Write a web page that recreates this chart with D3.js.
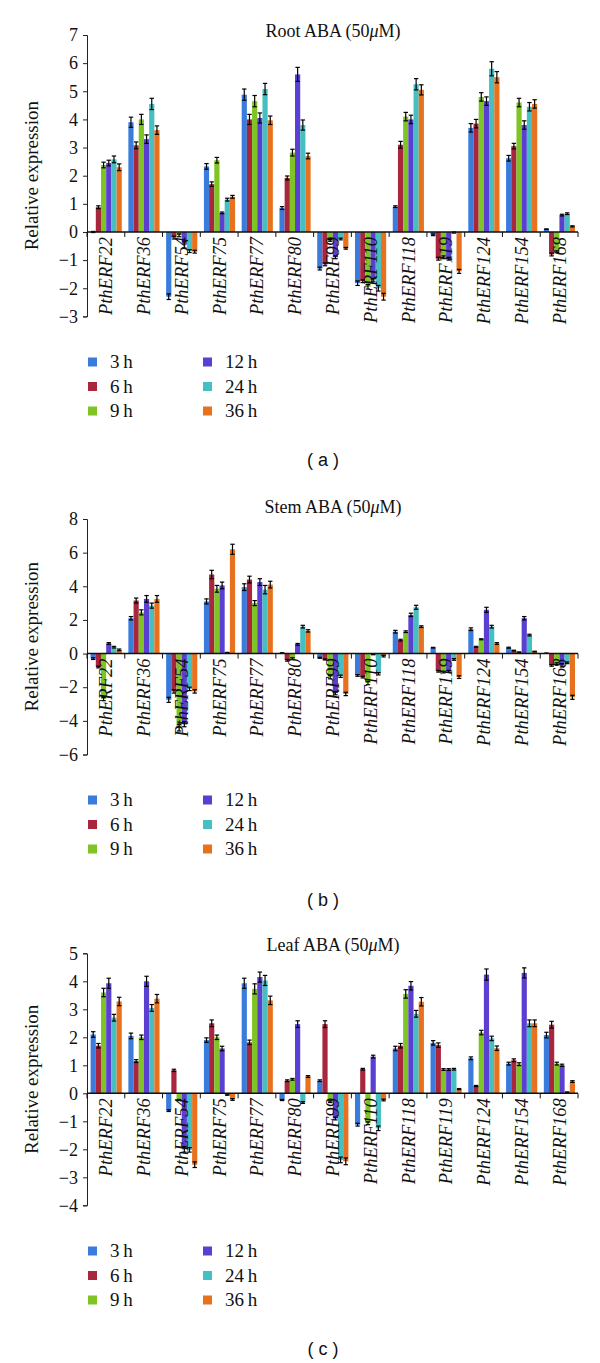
<!DOCTYPE html>
<meta charset="utf-8">
<style>
 body { margin: 0; background: #fff; }
 svg text { font-family: "Liberation Serif", "Times New Roman", serif; fill: #111; }
 svg text.tag { font-family: "Liberation Sans", Arial, sans-serif; font-size: 18px; }
</style>
<body>
<script src="https://cdn.jsdelivr.net/npm/d3@7"></script>
<script>

var genes = ["PthERF22", "PthERF36", "PthERF54", "PthERF75", "PthERF77", "PthERF80", "PthERF99",
             "PthERF110", "PthERF118", "PthERF119", "PthERF124", "PthERF154", "PthERF168"];
var times = ["3\u2009h", "6\u2009h", "9\u2009h", "12\u2009h", "24\u2009h", "36\u2009h"];
var colors = ["#3a7cdc", "#a8263e", "#7fc425", "#5a3fd0", "#45bfc2", "#e8711f"];

// one row per gene, one value per time point
var rootVals = [
  [0, 0.88, 2.38, 2.45, 2.58, 2.3],
  [3.9, 3.08, 4.0, 3.3, 4.55, 3.62],
  [-2.3, -0.2, -0.12, -0.45, -0.68, -0.7],
  [2.33, 1.7, 2.55, 0.68, 1.15, 1.25],
  [4.88, 4.0, 4.65, 4.05, 5.08, 3.97],
  [0.85, 1.92, 2.82, 5.6, 3.8, 2.7],
  [-1.3, -1.15, -0.3, -0.9, -0.25, -0.58],
  [-1.82, -1.75, -1.95, -1.7, -2.0, -2.3],
  [0.9, 3.1, 4.1, 4.0, 5.25, 5.05],
  [-0.1, -0.95, -0.9, -0.95, -0.02, -1.4],
  [3.7, 3.85, 4.8, 4.65, 5.8, 5.5],
  [2.62, 3.05, 4.6, 3.8, 4.45, 4.55],
  [0.1, -0.8, -0.7, 0.6, 0.65, 0.2]
];
var rootErr = [
  [0.02, 0.05, 0.1, 0.1, 0.12, 0.12],
  [0.18, 0.12, 0.18, 0.15, 0.2, 0.15],
  [0.1, 0.05, 0.05, 0.12, 0.05, 0.05],
  [0.1, 0.08, 0.1, 0.03, 0.05, 0.05],
  [0.2, 0.18, 0.2, 0.18, 0.2, 0.15],
  [0.05, 0.07, 0.12, 0.25, 0.18, 0.1],
  [0.05, 0.05, 0.03, 0.05, 0.03, 0.03],
  [0.08, 0.05, 0.08, 0.05, 0.1, 0.12],
  [0.03, 0.12, 0.15, 0.15, 0.2, 0.18],
  [0.03, 0.05, 0.05, 0.05, 0.02, 0.07],
  [0.15, 0.15, 0.15, 0.15, 0.25, 0.2],
  [0.1, 0.1, 0.15, 0.15, 0.15, 0.15],
  [0.01, 0.05, 0.03, 0.03, 0.03, 0.02]
];

var stemVals = [
  [-0.3, -0.8, -2.7, 0.6, 0.38, 0.22],
  [2.1, 3.15, 2.45, 3.25, 2.85, 3.25],
  [-2.75, -2.25, -4.4, -4.2, -2.1, -2.25],
  [3.1, 4.7, 3.85, 4.05, 0.05, 6.2],
  [3.95, 4.4, 3.0, 4.25, 3.8, 4.1],
  [0.03, -0.4, -0.3, 0.55, 1.6, 1.35],
  [-0.25, -0.35, -1.4, -2.35, -1.35, -2.4],
  [-1.3, -1.4, -1.75, -0.05, -1.2, -0.15],
  [1.3, 0.8, 1.3, 2.3, 2.75, 1.6],
  [0.35, -1.05, -1.1, -1.05, -0.35, -1.4],
  [1.45, 0.4, 0.85, 2.6, 1.6, 0.6],
  [0.35, 0.18, 0.08, 2.1, 1.1, 0.12],
  [0.02, -0.7, -0.6, -0.7, -0.55, -2.6]
];
var stemErr = [
  [0.05, 0.05, 0.1, 0.05, 0.05, 0.05],
  [0.1, 0.15, 0.15, 0.2, 0.15, 0.2],
  [0.15, 0.1, 0.2, 0.15, 0.1, 0.1],
  [0.15, 0.25, 0.2, 0.2, 0.02, 0.3],
  [0.2, 0.2, 0.15, 0.2, 0.25, 0.2],
  [0.02, 0.05, 0.05, 0.05, 0.08, 0.07],
  [0.03, 0.03, 0.1, 0.1, 0.07, 0.1],
  [0.05, 0.05, 0.1, 0.02, 0.07, 0.05],
  [0.08, 0.05, 0.05, 0.1, 0.12, 0.05],
  [0.02, 0.05, 0.05, 0.05, 0.05, 0.08],
  [0.08, 0.03, 0.03, 0.15, 0.08, 0.05],
  [0.03, 0.02, 0.02, 0.1, 0.05, 0.02],
  [0.01, 0.05, 0.05, 0.1, 0.05, 0.12]
];

var leafVals = [
  [2.1, 1.7, 3.6, 3.93, 2.7, 3.28],
  [2.05, 1.15, 2.0, 4.0, 3.05, 3.38],
  [-0.62, 0.82, -0.24, -2.0, -2.02, -2.55],
  [1.9, 2.5, 2.0, 1.6, -0.05, -0.22],
  [3.93, 1.82, 3.73, 4.15, 4.03, 3.32],
  [-0.24, 0.45, 0.5, 2.47, -0.33, 0.6],
  [0.45, 2.47, -0.3, -0.9, -2.38, -2.43],
  [-1.12, 0.86, -1.07, 1.31, -1.25, -0.24],
  [1.6, 1.7, 3.55, 3.84, 2.84, 3.27],
  [1.8, 1.72, 0.85, 0.85, 0.86, 0.15],
  [1.25, 0.26, 2.17, 4.24, 1.96, 1.61],
  [1.06, 1.18, 1.04, 4.3, 2.5, 2.5],
  [2.08, 2.45, 1.06, 1.0, 0.04, 0.42]
];
var leafErr = [
  [0.1, 0.08, 0.15, 0.18, 0.12, 0.15],
  [0.1, 0.05, 0.08, 0.18, 0.12, 0.15],
  [0.03, 0.04, 0.02, 0.1, 0.08, 0.1],
  [0.08, 0.12, 0.08, 0.08, 0.02, 0.03],
  [0.18, 0.08, 0.18, 0.18, 0.18, 0.15],
  [0.02, 0.03, 0.03, 0.12, 0.03, 0.03],
  [0.03, 0.12, 0.03, 0.05, 0.1, 0.12],
  [0.05, 0.03, 0.05, 0.05, 0.08, 0.03],
  [0.08, 0.08, 0.15, 0.15, 0.12, 0.15],
  [0.08, 0.08, 0.03, 0.03, 0.03, 0.02],
  [0.05, 0.02, 0.08, 0.2, 0.08, 0.08],
  [0.05, 0.05, 0.05, 0.18, 0.12, 0.12],
  [0.1, 0.12, 0.05, 0.04, 0.01, 0.03]
];

var width = 600, height = 1363;
var left = 87, right = 578;
var serif = '"Liberation Serif", "Times New Roman", serif';

var svg = d3.select("body").append("svg")
  .attr("width", width)
  .attr("height", height);

var panels = [
  {tissue: "Root", vals: rootVals, errs: rootErr, lo: -3, hi: 7, step: 1, top: 35, bottom: 316.4, titleY: 37, legendY: 362, tag: "( a )", tagY: 460},
  {tissue: "Stem", vals: stemVals, errs: stemErr, lo: -6, hi: 8, step: 2, top: 519, bottom: 754.5, titleY: 513, legendY: 800, tag: "( b )", tagY: 900},
  {tissue: "Leaf", vals: leafVals, errs: leafErr, lo: -4, hi: 5, step: 1, top: 953.3, bottom: 1205.3, titleY: 951, legendY: 1251, tag: "( c )", tagY: 1349}
];

var x0 = d3.scaleBand().domain(genes).range([left, right]);
var x1 = d3.scaleBand().domain(times).range([3.6, x0.bandwidth() - 3]);

panels.forEach(function (p) {
  var g = svg.append("g");
  var y = d3.scaleLinear().domain([p.lo, p.hi]).range([p.bottom, p.top]);
  var y0 = y(0);

  // title
  var t = g.append("text")
    .attr("x", 333).attr("y", p.titleY)
    .attr("text-anchor", "middle")
    .style("font-family", serif)
    .style("font-size", "18px")
    .text(p.tissue + " ABA (50");
  t.append("tspan").style("font-style", "italic").text("\u03bc");
  t.append("tspan").text("M)");

  // y axis
  var yAxis = d3.axisLeft(y)
    .tickValues(d3.range(p.lo, p.hi + 0.001, p.step))
    .tickSize(4)
    .tickFormat(d3.format("d"));
  var ya = g.append("g").attr("transform", "translate(" + left + ",0)").call(yAxis)
    .attr("font-family", null).attr("font-size", null);
  ya.select(".domain").attr("stroke", "#222");
  ya.selectAll(".tick line").attr("stroke", "#222");
  ya.selectAll(".tick text").attr("x", -9)
    .style("font-family", serif).style("font-size", "18px").attr("fill", "#111");

  g.append("text")
    .attr("transform", "translate(38," + (p.top + p.bottom) / 2 + ") rotate(-90)")
    .attr("text-anchor", "middle")
    .style("font-family", serif)
    .style("font-size", "19px")
    .text("Relative expression");

  // bars
  genes.forEach(function (gene, gi) {
    var grp = g.append("g").attr("transform", "translate(" + x0(gene) + ",0)");
    grp.selectAll("rect")
      .data(p.vals[gi])
      .enter().append("rect")
        .attr("x", function (d, i) { return x1(times[i]); })
        .attr("y", function (d) { return y(Math.max(0, d)); })
        .attr("width", x1.bandwidth())
        .attr("height", function (d) { return Math.abs(y(d) - y0); })
        .attr("fill", function (d, i) { return colors[i]; });

    // error bars
    var eb = grp.selectAll("g.err")
      .data(p.vals[gi])
      .enter().append("g").attr("class", "err")
        .attr("stroke", "#000").attr("stroke-width", 1.2);
    eb.append("line")
      .attr("x1", function (d, i) { return x1(times[i]) + x1.bandwidth() / 2; })
      .attr("x2", function (d, i) { return x1(times[i]) + x1.bandwidth() / 2; })
      .attr("y1", function (d, i) { return y(d - p.errs[gi][i]); })
      .attr("y2", function (d, i) { return y(d + p.errs[gi][i]); });
    [-1, 1].forEach(function (s) {
      eb.append("line")
        .attr("x1", function (d, i) { return x1(times[i]) + x1.bandwidth() / 2 - 2.2; })
        .attr("x2", function (d, i) { return x1(times[i]) + x1.bandwidth() / 2 + 2.2; })
        .attr("y1", function (d, i) { return y(d + s * p.errs[gi][i]); })
        .attr("y2", function (d, i) { return y(d + s * p.errs[gi][i]); });
    });
  });

  // x axis at zero with category boundary ticks
  g.append("line")
    .attr("x1", left).attr("x2", right)
    .attr("y1", y0).attr("y2", y0)
    .attr("stroke", "#111").attr("stroke-width", 1.5);
  g.selectAll("line.xt")
    .data(genes.map(function (d) { return x0(d); }).concat([right]))
    .enter().append("line").attr("class", "xt")
      .attr("x1", function (d) { return d; }).attr("x2", function (d) { return d; })
      .attr("y1", y0).attr("y2", y0 + 5)
      .attr("stroke", "#111");

  g.selectAll("text.cat")
    .data(genes)
    .enter().append("text").attr("class", "cat")
      .attr("transform", function (d) {
        return "translate(" + (x0(d) + x0.bandwidth() / 2) + "," + (y0 + 5) + ") rotate(-90)";
      })
      .attr("dy", "0.35em")
      .attr("text-anchor", "end")
      .style("font-family", serif)
      .style("font-size", "18.5px")
      .style("font-style", "italic")
      .text(function (d) { return d; });

  // legend
  var leg = g.selectAll("g.leg")
    .data(times)
    .enter().append("g").attr("class", "leg")
      .attr("transform", function (d, i) {
        return "translate(" + (i < 3 ? 88 : 203) + "," + (p.legendY + (i % 3) * 24.5) + ")";
      });
  leg.append("rect")
    .attr("x", 0).attr("y", -4.5)
    .attr("width", 9).attr("height", 9)
    .attr("fill", function (d, i) { return colors[i]; });
  leg.append("text")
    .attr("x", 22).attr("y", 6)
    .style("font-family", serif)
    .style("font-size", "19px")
    .text(function (d) { return d; });

  g.append("text")
    .attr("class", "tag")
    .attr("x", 323).attr("y", p.tagY + 6)
    .attr("text-anchor", "middle")
    .text(p.tag);
});

</script>
</body>
